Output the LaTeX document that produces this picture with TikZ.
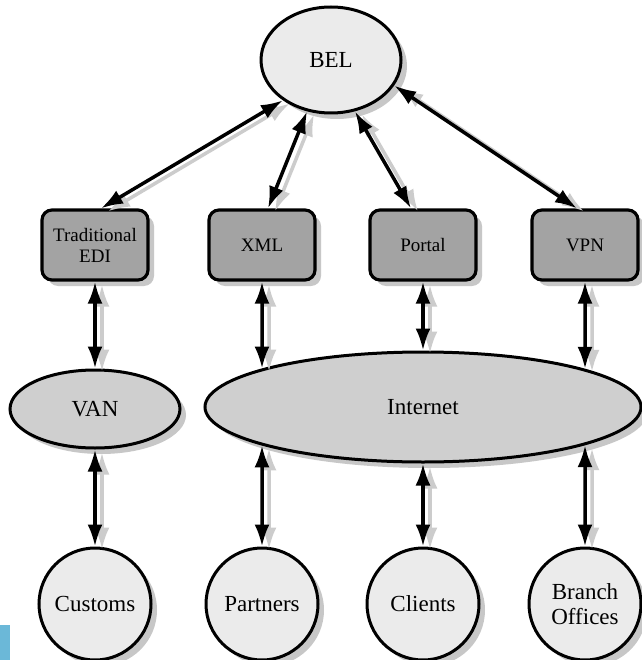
\documentclass[tikz,border=0pt]{standalone}
\usepackage{fontspec}
\setmainfont{Liberation Serif}
\usetikzlibrary{shapes.geometric,shadows,arrows.meta,intersections}
\begin{document}
\begin{tikzpicture}[x=1pt,y=-1pt,
  shad/.style={drop shadow={shadow xshift=6pt,shadow yshift=-6pt,fill=black!22,opacity=1}},
  bigtext/.style={font=\fontsize{23}{25}\selectfont},
  oval/.style={ellipse,draw=black,line width=3pt,shad,bigtext,inner sep=0pt},
  lightfill/.style={fill=black!8},
  midfill/.style={fill=black!19},
  boxnode/.style={rectangle,rounded corners=10pt,draw=black,line width=3.2pt,fill=black!36,
    minimum width=106pt,minimum height=70pt,shad,align=center,
    font=\fontsize{19}{21}\selectfont},
  circ/.style={circle,draw=black,line width=3pt,fill=black!8,minimum size=112pt,inner sep=0pt,
    shad,bigtext,align=center},
  dbl/.style={line width=3.5pt,{Latex[length=22pt,width=15pt]}-{Latex[length=22pt,width=15pt]},
    preaction={draw=black!20,line width=3.5pt,transform canvas={shift={(7pt,-3pt)}}}}
]
\useasboundingbox (0,0) rectangle (641,660);
\fill[white] (0,0) rectangle (641,660);
\fill[fill={rgb,255:red,107;green,184;blue,216}] (0,625) rectangle (10,660);

\node[oval,lightfill,minimum width=140pt,minimum height=106pt] (bel) at (331,60) {BEL};

\node[boxnode] (edi) at (95,245) {Traditional\\EDI};
\node[boxnode] (xml) at (262,245) {XML};
\node[boxnode] (portal) at (423,245) {Portal};
\node[boxnode] (vpn) at (585,245) {VPN};

\node[oval,midfill,minimum width=170pt,minimum height=78pt] (van) at (95,409) {VAN};
\node[oval,midfill,minimum width=436pt,minimum height=110pt] (inet) at (423,407) {Internet};

\node[circ] (customs) at (95,604) {Customs};
\node[circ] (partners) at (262,604) {Partners};
\node[circ] (clients) at (423,604) {Clients};
\node[circ] (branch) at (585,604) {Branch\\Offices};

% border of the Internet ellipse, for the connector ends
\path[name path=inetb] (inet.center) ellipse [x radius=219.5, y radius=56.5];
\path[name path=vx] (262,250) -- (262,560);
\path[name path=vv] (585,250) -- (585,560);
\path[name intersections={of=vx and inetb,sort by=vx,name=ix}];
\path[name intersections={of=vv and inetb,sort by=vv,name=iv}];
\coordinate (xtop) at (ix-1);
\coordinate (xbot) at (ix-2);
\coordinate (vtop) at (iv-1);
\coordinate (vbot) at (iv-2);

\draw[dbl] (bel.220) -- ([xshift=6pt]edi.north);
\draw[dbl] (bel.245) -- ([xshift=6pt]xml.north);
\draw[dbl] (bel.295) -- ([xshift=-12pt]portal.north);
\draw[dbl] (bel.338) -- ([xshift=-8pt]vpn.north);

\draw[dbl] (edi.south) -- (van.north);
\draw[dbl] (xml.south) -- (xtop);
\draw[dbl] (portal.south) -- (inet.north);
\draw[dbl] (vpn.south) -- (vtop);

\draw[dbl] (van.south) -- (customs.north);
\draw[dbl] (xbot) -- (partners.north);
\draw[dbl] (inet.south) -- (clients.north);
\draw[dbl] (vbot) -- (branch.north);
\end{tikzpicture}
\end{document}
